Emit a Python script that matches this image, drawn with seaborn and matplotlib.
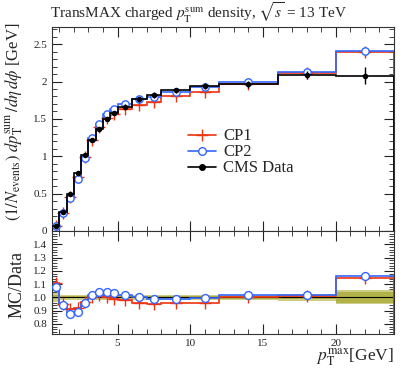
import numpy as np
import matplotlib
matplotlib.use("Agg")
import matplotlib.pyplot as plt
from matplotlib.lines import Line2D
from matplotlib.ticker import MultipleLocator, FormatStrFormatter
import seaborn as sns

# bin edges in leading-track pT [GeV]
edges = [0.5, 1, 1.5, 2, 2.5, 3, 3.5, 4, 4.5, 5, 6, 7, 8, 10, 12, 16, 20, 24]

# CMS data, transMAX pT-sum density
data = [0.065, 0.25, 0.50, 0.78, 1.02, 1.22, 1.37, 1.50, 1.58, 1.66,
        1.76, 1.82, 1.88, 1.94, 1.96, 2.09, 2.08]
data_err_stat = [0.001, 0.002, 0.004, 0.006, 0.008, 0.010, 0.011, 0.012, 0.012, 0.013,
                 0.014, 0.015, 0.015, 0.016, 0.018, 0.025, 0.080]
data_err_tot = [0.002, 0.005, 0.010, 0.016, 0.020, 0.024, 0.027, 0.030, 0.032, 0.033,
                0.035, 0.036, 0.038, 0.040, 0.042, 0.052, 0.110]

# generator predictions
cp1 = [0.072, 0.238, 0.455, 0.718, 0.984, 1.22, 1.39, 1.51, 1.56, 1.63,
       1.69, 1.73, 1.80, 1.86, 1.97, 2.11, 2.39]
cp2 = [0.070, 0.235, 0.438, 0.694, 0.974, 1.238, 1.425, 1.56, 1.635, 1.693,
       1.769, 1.793, 1.861, 1.93, 2.00, 2.13, 2.41]
cp1_err = [0.002, 0.003, 0.004, 0.005, 0.006, 0.006, 0.007, 0.008, 0.008, 0.008,
           0.009, 0.010, 0.010, 0.012, 0.014, 0.020, 0.050]
cp2_err = [0.002, 0.003, 0.004, 0.005, 0.006, 0.006, 0.007, 0.008, 0.008, 0.008,
           0.009, 0.010, 0.010, 0.012, 0.014, 0.020, 0.040]

RED = "#ee3311"
BLUE = "#3366ff"
BAND_IN = "#b2b24a"
BAND_OUT = "#cdcd85"

sns.set_style("ticks")
plt.rcParams["font.family"] = ["Liberation Serif", "DejaVu Serif"]
plt.rcParams["mathtext.fontset"] = "stix"

edges = np.array(edges)
centers = 0.5 * (edges[:-1] + edges[1:])
data = np.array(data)
cp1 = np.array(cp1)
cp2 = np.array(cp2)

fig = plt.figure(figsize=(4.07, 3.69), dpi=100)
ax = fig.add_axes([0.128, 0.374, 0.840, 0.553])
rax = fig.add_axes([0.128, 0.095, 0.840, 0.279], sharex=ax)

# main panel
ax.stairs(cp1, edges, color=RED, lw=1.2)
ax.errorbar(centers, cp1, yerr=cp1_err, fmt="+", color=RED, ms=8, mew=1.0, elinewidth=1.0)
ax.stairs(cp2, edges, color=BLUE, lw=1.2)
ax.errorbar(centers, cp2, yerr=cp2_err, fmt="none", ecolor=BLUE, elinewidth=1.0)
sns.scatterplot(x=centers, y=cp2, ax=ax, marker="o", s=28, facecolor="white",
                edgecolor=BLUE, linewidth=1.0, zorder=4)
ax.stairs(data, edges, color="black", lw=1.2, zorder=5)
ax.errorbar(centers, data, yerr=data_err_tot, fmt="none", ecolor="black", elinewidth=1.0, zorder=6)
sns.scatterplot(x=centers, y=data, ax=ax, color="black", s=16, linewidth=0, zorder=7)

ax.set_xlim(0.5, 24)
ax.set_ylim(0, 2.73)
ax.yaxis.set_major_locator(MultipleLocator(0.5))
ax.yaxis.set_minor_locator(MultipleLocator(0.1))
ax.yaxis.set_major_formatter(FormatStrFormatter("%g"))
ax.xaxis.set_major_locator(MultipleLocator(5))
ax.xaxis.set_minor_locator(MultipleLocator(1))
ax.tick_params(axis="x", labelbottom=False)

handles = [
    Line2D([], [], color=RED, lw=1.2, marker="+", ms=8, mew=1.0),
    Line2D([], [], color=BLUE, lw=1.2, marker="o", ms=5.5, mfc="white", mec=BLUE),
    Line2D([], [], color="black", lw=1.2, marker="o", ms=4),
]
ax.legend(handles, ["CP1", "CP2", "CMS Data"], loc="upper left",
          bbox_to_anchor=(0.462, 0.652), bbox_transform=fig.transFigure,
          frameon=False, fontsize=12, handlelength=1.7, handletextpad=0.4,
          labelspacing=0.0, borderpad=0, borderaxespad=0)

# ratio panel
r1 = cp1 / data
r2 = cp2 / data
rel_stat = np.array(data_err_stat) / data
rel_tot = np.array(data_err_tot) / data
rax.stairs(1 + rel_tot, edges, baseline=1 - rel_tot, fill=True, color=BAND_OUT, lw=0)
rax.stairs(1 + rel_stat, edges, baseline=1 - rel_stat, fill=True, color=BAND_IN, lw=0)
rax.stairs(np.ones_like(data), edges, color="black", lw=0.8)
rax.stairs(r1, edges, color=RED, lw=1.2)
rax.errorbar(centers, r1, yerr=np.array(cp1_err) / data, fmt="+", color=RED, ms=8,
             mew=1.0, elinewidth=1.0)
rax.stairs(r2, edges, color=BLUE, lw=1.2)
sns.scatterplot(x=centers, y=r2, ax=rax, marker="o", s=32, facecolor="white",
                edgecolor=BLUE, linewidth=1.0, zorder=4)

rax.set_ylim(0.725, 1.5)
rax.yaxis.set_major_locator(MultipleLocator(0.1))
rax.yaxis.set_minor_locator(MultipleLocator(0.02))
rax.yaxis.set_major_formatter(FormatStrFormatter("%.1f"))
rax.set_yticks([0.8, 0.9, 1.0, 1.1, 1.2, 1.3, 1.4])

for a in (ax, rax):
    a.tick_params(which="both", direction="in", top=True, right=True,
                  labelsize=8, colors="#222222")
    a.tick_params(which="major", length=7)
    a.tick_params(which="minor", length=3.5)
    for s in a.spines.values():
        s.set_linewidth(0.8)
        s.set_color("#333333")

fig.text(0.123, 0.965, r"TransMAX charged $p_\mathrm{T}^\mathrm{sum}$ density, $\sqrt{s}$ = 13 TeV",
         ha="left", va="center", fontsize=11)
fig.text(0.035, 0.938, r"$(1/N_\mathrm{events})\ dp_\mathrm{T}^\mathrm{sum}\,/d\eta\,d\phi$ [GeV]",
         rotation=90, ha="center", va="top", fontsize=12)
fig.text(0.043, 0.23, "MC/Data", rotation=90, ha="center", va="center", fontsize=13)
fig.text(0.968, 0.002, r"$p_\mathrm{T}^\mathrm{max}$[GeV]", ha="right", va="bottom", fontsize=12.5)

fig.savefig("out.png", dpi=100)
